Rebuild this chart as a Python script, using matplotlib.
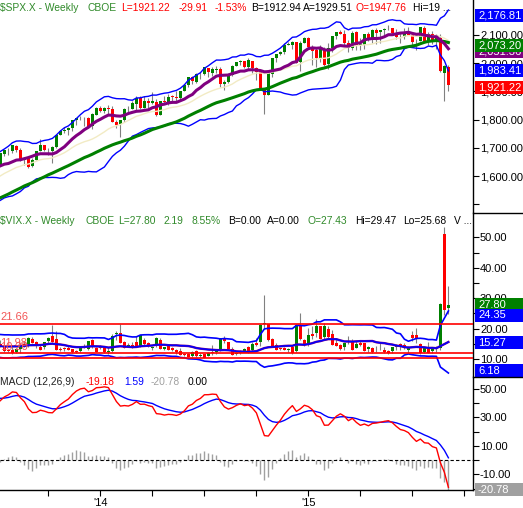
"""
spx-vix-weekly
  weekly S&P 500 and VIX candles with bollinger bands, moving averages and MACD
"""

import numpy as np
import pandas as pd

import matplotlib
matplotlib.use('Agg')
import matplotlib.pyplot as plt
import matplotlib.transforms as mtransforms
from matplotlib.patches import Rectangle
from matplotlib.lines import Line2D

plt.rcParams['font.family'] = ['Liberation Sans', 'DejaVu Sans']
plt.rcParams['font.size'] = 8

W, H = 523, 508   # output size in pixels

# ---------------------------------------------------------------
# S&P 500 weekly closes, week ending 2012-07-06 .. 2015-09-04
# (the weeks before 2013-07-12 only feed the averages / MACD)
spx_close = [
    # 2012 H2
    1354.68, 1356.78, 1362.66, 1385.97,
    1390.99, 1405.87, 1418.16, 1411.13, 1406.58,
    1437.92, 1465.77, 1460.15, 1440.67,
    1460.93, 1428.59, 1433.19, 1411.94,
    1414.20, 1379.85, 1359.88, 1409.15, 1416.18,
    1418.07, 1413.58, 1430.15, 1402.43,
    # 2013 up to Jul 5
    1466.47, 1472.05, 1485.98, 1502.96,
    1513.17, 1517.93, 1519.79, 1515.60,
    1518.20, 1551.18, 1560.70, 1556.89, 1569.19,
    1553.28, 1588.85, 1555.25, 1582.24,
    1614.42, 1633.70, 1667.47, 1649.60, 1630.74,
    1643.38, 1626.73, 1592.43, 1606.28,
    1631.89,
    # visible: 2013 from Jul 12
    1680.19, 1692.09, 1691.65,
    1709.67, 1691.42, 1655.83, 1663.50, 1632.97,
    1655.17, 1687.99, 1709.91, 1691.75,
    1690.50, 1703.20, 1744.50, 1759.77,
    1761.64, 1770.61, 1798.18, 1804.76, 1805.81,
    1805.09, 1775.32, 1818.32, 1841.40,
    # 2014
    1831.37, 1842.37, 1838.70, 1790.29, 1782.59,
    1797.02, 1838.63, 1836.25, 1859.45,
    1878.04, 1841.13, 1866.52, 1857.62,
    1865.09, 1815.69, 1864.85, 1863.40,
    1881.14, 1878.48, 1877.86, 1900.53, 1923.57,
    1949.44, 1936.16, 1962.87, 1960.96,
    1985.44, 1967.57, 1978.22, 1978.34,
    1925.15, 1931.59, 1955.06, 1988.40, 2003.37,
    2007.71, 1985.54, 2010.40, 1982.85,
    1967.90, 1906.13, 1886.76, 1964.58, 2018.05,
    2031.92, 2039.82, 2063.50, 2067.56,
    2075.37, 2002.33, 2070.65, 2088.77,
    # 2015
    2058.20, 2044.81, 2019.42, 2051.82, 1994.99,
    2055.47, 2096.99, 2110.30, 2104.50,
    2071.26, 2053.40, 2108.10, 2061.02,
    2066.96, 2102.06, 2081.18, 2117.69,
    2108.29, 2116.10, 2122.73, 2126.06, 2107.39,
    2092.83, 2094.11, 2109.99, 2101.49,
    2076.78, 2076.62, 2126.64, 2079.65, 2103.84,
    2077.57, 2091.54, 1970.89, 1988.87,
    1921.22,
]

# open / high / low for the visible weeks (2013-07-12 .. 2015-09-04)
spx_open = [
    1634, 1679, 1692, 1690, 1708, 1692, 1656, 1664, 1635, 1657, 1688, 1709, 1687,
    1687, 1703, 1745, 1759, 1762, 1769, 1798, 1805, 1806, 1806, 1776, 1818,
    1842, 1832, 1842, 1837, 1791, 1783, 1797, 1838, 1837, 1857, 1878, 1842, 1867,
    1858, 1863, 1816, 1865, 1864, 1884, 1880, 1877, 1901, 1923, 1950, 1934, 1962,
    1960, 1984, 1967, 1976, 1979, 1926, 1933, 1958, 1991, 2004, 2007, 1986, 2009,
    1982, 1971, 1905, 1886, 1963, 2018, 2032, 2039, 2065, 2065, 2074, 2003, 2070,
    2089, 2056, 2046, 2020, 2050, 1997, 2053, 2097, 2110, 2105, 2072, 2055, 2109,
    2064, 2064, 2102, 2082, 2119, 2110, 2116, 2123, 2125, 2108, 2093, 2092, 2110,
    2101, 2075, 2080, 2126, 2078, 2105, 2078, 2090, 1966, 1987,
]
spx_high = [
    1681, 1693, 1698, 1710, 1709, 1701, 1669, 1669, 1664, 1689, 1730, 1711, 1700,
    1708, 1745, 1760, 1775, 1774, 1799, 1806, 1813, 1811, 1811, 1823, 1844,
    1849, 1843, 1851, 1850, 1799, 1798, 1841, 1847, 1867, 1883, 1882, 1883, 1875,
    1897, 1873, 1865, 1885, 1891, 1889, 1902, 1901, 1925, 1950, 1955, 1964, 1969,
    1986, 1984, 1985, 1991, 1985, 1942, 1964, 1994, 2006, 2011, 2008, 2019, 2009,
    1987, 1977, 1912, 1965, 2019, 2034, 2042, 2071, 2076, 2079, 2075, 2077, 2093,
    2093, 2064, 2054, 2065, 2058, 2072, 2097, 2111, 2119, 2117, 2083, 2114, 2115,
    2089, 2103, 2111, 2120, 2126, 2117, 2124, 2134, 2126, 2121, 2109, 2126, 2130,
    2102, 2086, 2129, 2132, 2110, 2113, 2105, 2103, 1993, 1993,
]
spx_low = [
    1634, 1671, 1676, 1682, 1684, 1654, 1639, 1627, 1633, 1657, 1687, 1687, 1674,
    1646, 1700, 1744, 1752, 1746, 1761, 1780, 1797, 1779, 1772, 1767, 1818,
    1828, 1823, 1815, 1790, 1770, 1737, 1792, 1824, 1836, 1834, 1839, 1840, 1842,
    1857, 1814, 1815, 1859, 1851, 1859, 1862, 1868, 1901, 1916, 1925, 1930, 1944,
    1958, 1952, 1955, 1965, 1916, 1904, 1929, 1956, 1990, 1992, 1984, 1979, 1965,
    1941, 1906, 1821, 1886, 1951, 2006, 2028, 2034, 2063, 2049, 2002, 1973, 2070,
    2054, 1992, 1988, 2004, 1989, 1981, 2041, 2085, 2103, 2066, 2039, 2047, 2046,
    2048, 2052, 2079, 2073, 2067, 2070, 2099, 2119, 2099, 2086, 2072, 2085, 2101,
    2056, 2045, 2080, 2077, 2063, 2068, 2052, 1970, 1867, 1903,
]

# VIX weekly closes, week ending 2013-03-01 .. 2015-09-04
vix_close = [
    # 2013 up to Jul 5
    15.36, 12.59, 11.30, 13.57, 12.70, 13.92, 12.06, 14.97, 13.61, 12.85,
    12.59, 12.45, 14.07, 16.30, 15.14, 17.15, 18.90, 16.86, 14.89,
    # visible: 2013 from Jul 12
    14.01, 12.54, 12.72, 11.98, 13.41, 14.37, 14.76, 17.01, 15.36, 14.16, 13.12,
    15.46, 16.74, 15.72, 13.04, 13.09, 13.19, 12.90, 12.19, 12.26, 13.70, 13.79,
    15.76, 13.79, 12.46,
    # 2014
    13.76, 12.14, 12.44, 17.58, 18.41, 15.29, 13.57, 14.68, 14.00, 14.11, 17.82,
    15.00, 14.41, 13.96, 17.03, 13.36, 14.06, 12.91, 12.92, 12.44, 11.36, 11.40,
    10.73, 12.18, 10.85, 11.26, 10.32, 12.08, 12.06, 12.69, 16.95, 15.77, 13.15,
    11.47, 12.09, 12.09, 13.31, 12.11, 14.85, 14.55, 21.24, 21.99, 16.11, 14.03,
    13.12, 13.31, 12.90, 13.33, 11.82, 21.08, 16.49, 14.50,
    # 2015
    17.79, 17.55, 20.95, 16.66, 20.97, 17.29, 14.69, 14.30, 13.34, 15.20, 16.00,
    13.02, 15.07, 14.67, 12.58, 13.89, 12.29, 12.70, 12.86, 12.38, 12.13, 13.84,
    14.21, 13.78, 13.96, 14.02, 16.79, 16.83, 11.95, 13.74, 12.12, 13.39, 12.83,
    28.03, 26.05, 27.80,
]
vix_open = [
    14.9, 14.1, 12.8, 13.0, 12.3, 13.3, 14.9, 14.8, 16.5, 15.7, 14.1, 13.8, 15.9,
    17.7, 16.6, 13.2, 13.5, 13.6, 13.2, 12.5, 12.7, 14.1, 13.3, 16.2, 13.7,
    14.2, 13.8, 12.4, 12.6, 18.1, 18.6, 15.6, 14.0, 14.6, 15.5, 14.3, 16.4, 15.2,
    13.7, 14.6, 16.2, 13.3, 14.3, 13.5, 13.0, 12.5, 11.7, 11.6, 11.0, 12.6, 11.0,
    11.6, 10.9, 12.1, 12.4, 12.9, 16.9, 15.5, 13.2, 11.8, 12.4, 12.7, 14.1, 12.9,
    15.2, 15.5, 21.5, 21.6, 16.6, 14.5, 13.4, 13.6, 12.9, 14.1, 12.6, 21.0, 16.3,
    14.6, 18.2, 18.4, 21.0, 17.2, 20.0, 18.3, 15.2, 14.6, 13.8, 15.5, 15.6, 13.5,
    15.1, 15.2, 13.2, 13.6, 12.6, 13.0, 12.9, 12.6, 12.7, 13.9, 14.8, 14.6, 13.1,
    17.9, 17.9, 14.9, 12.3, 14.0, 12.6, 13.0, 13.7, 51.0, 26.9,
]
vix_high = [
    16.2, 14.6, 13.4, 14.0, 13.7, 15.1, 16.0, 17.1, 17.1, 15.8, 14.9, 15.5, 17.1,
    21.3, 19.3, 13.9, 13.8, 14.4, 13.3, 13.0, 13.8, 15.0, 16.0, 16.5, 14.0,
    14.6, 13.9, 14.0, 18.1, 19.3, 21.5, 15.9, 15.2, 15.6, 17.4, 17.9, 16.9, 15.6,
    14.0, 17.3, 16.8, 14.1, 14.8, 13.9, 13.4, 13.5, 11.9, 12.1, 12.6, 12.8, 12.1,
    11.8, 12.3, 14.5, 13.0, 17.0, 17.6, 15.6, 13.8, 12.4, 12.9, 13.5, 14.3, 15.7,
    17.0, 21.4, 31.1, 21.6, 17.0, 15.3, 13.7, 14.1, 13.5, 14.6, 21.5, 25.2, 16.6,
    20.2, 21.0, 23.3, 21.0, 21.9, 21.0, 19.6, 16.6, 14.9, 15.4, 17.5, 16.6, 15.8,
    16.2, 15.2, 14.2, 14.1, 14.3, 15.3, 13.8, 12.9, 14.0, 15.0, 15.3, 15.4, 14.2,
    19.2, 20.1, 15.2, 13.9, 15.7, 14.0, 14.2, 28.4, 53.3, 34.0,
]
vix_low = [
    13.8, 12.3, 12.2, 11.8, 11.9, 11.9, 13.9, 14.1, 15.1, 13.5, 12.8, 13.3, 15.4,
    15.6, 13.0, 12.5, 12.6, 12.8, 12.0, 11.9, 12.4, 13.6, 13.0, 13.7, 12.3,
    13.2, 12.1, 11.8, 12.2, 16.4, 15.2, 13.5, 13.8, 13.6, 13.8, 13.9, 14.4, 13.9,
    13.0, 13.8, 13.3, 12.9, 12.8, 12.6, 11.8, 11.3, 10.9, 10.7, 10.6, 10.6, 10.6,
    10.3, 10.9, 11.4, 11.8, 12.7, 15.3, 12.8, 11.3, 11.3, 11.6, 12.3, 12.0, 12.5,
    14.3, 14.4, 20.2, 15.9, 13.8, 13.0, 12.9, 12.8, 12.4, 11.8, 12.3, 16.2, 14.3,
    14.3, 16.5, 17.2, 16.5, 16.4, 16.6, 14.6, 14.3, 13.0, 13.0, 15.0, 13.0, 13.5,
    14.4, 12.5, 12.3, 12.1, 12.3, 12.8, 12.1, 11.8, 12.1, 12.9, 12.9, 13.2, 12.1,
    15.8, 15.4, 11.8, 12.0, 12.1, 12.0, 12.2, 12.9, 24.5, 24.8,
]

# horizontal levels drawn on the VIX panel
vix_levels = [21.66, 11.98, 10.20]
vix_level_labels = ['21.66', '11.98', '10.20']

# value tags on the right edge (text, value, colour, vertical nudge in px), drawn in order
spx_tags = [('2,051.36', 2051.36, '#800080', 2.5), ('2,176.81', 2176.81, '#0000ff', 2.5),
            ('2,073.20', 2073.20, '#008000', 2.5), ('1,983.41', 1983.41, '#0000ff', 2.5),
            ('1,921.22', 1921.22, '#ff0000', 2.5)]
vix_tags = [('15.55', 15.55, '#800080', 0), ('27.80', 27.80, '#008000', 0),
            ('24.35', 24.35, '#0000ff', 0), ('15.27', 15.27, '#0000ff', 0),
            ('6.18', 6.18, '#0000ff', 0)]
macd_tags = [('-20.78', -20.78, '#a0a0a0', 0)]

# header lines: (text, x pixel, colour)
green_txt, red_txt, blk = '#308a2a', '#ff0000', '#000000'
spx_head = [('$SPX.X - Weekly', 0, green_txt), ('CBOE', 87, green_txt),
            ('L=1921.22', 121, red_txt), ('-29.91', 179, red_txt), ('-1.53%', 215, red_txt),
            ('B=1912.94', 251, blk), ('A=1929.51', 303, blk), ('O=1947.76', 356, red_txt),
            ('Hi=19 ...', 413, blk)]
vix_head = [('$VIX.X - Weekly', 0, green_txt), ('CBOE', 85, green_txt),
            ('L=27.80', 118, green_txt), ('2.19', 164, green_txt), ('8.55%', 192, green_txt),
            ('B=0.00', 228, blk), ('A=0.00', 267, blk), ('O=27.43', 308, green_txt),
            ('Hi=29.47', 355, blk), ('Lo=25.68', 403, blk), ('V ...', 454, blk)]
macd_head = [('MACD (12,26,9)', 0, '#222222'), ('-19.18', 86, red_txt),
             ('1.59', 124, '#0000ff'), ('-20.78', 151, '#a0a0a0'), ('0.00', 188, blk)]

# ---------------------------------------------------------------
start = pd.Timestamp('2012-07-06')
first = (pd.Timestamp('2013-07-12') - start).days // 7
vix_off = (pd.Timestamp('2013-03-01') - start).days // 7

assert len(spx_close) == first + 113
assert len(spx_open) == len(spx_high) == len(spx_low) == 113
assert len(vix_open) == len(vix_high) == len(vix_low) == 113
assert len(vix_close) == first - vix_off + 113

spx = pd.Series(spx_close, dtype=float)
x_spx = np.arange(len(spx))
xv = x_spx[first:]

sma10 = spx.rolling(10).mean()
sma40 = spx.rolling(40).mean()
mid = spx.rolling(20).mean()
sd = spx.rolling(20).std(ddof=0)

ema12 = spx.ewm(span=12, adjust=False).mean()
ema26 = spx.ewm(span=26, adjust=False).mean()
macd = ema12 - ema26
signal = macd.ewm(span=9, adjust=False).mean()
hist = macd - signal

vix = pd.Series(vix_close, dtype=float)
x_vix = np.arange(len(vix)) + vix_off
vmid = vix.rolling(20).mean()
vsd = vix.rolling(20).std(ddof=0)

# ---------------------------------------------------------------
fig = plt.figure(figsize=(W / 100, H / 100), dpi=100)
fig.patch.set_facecolor('white')

xlo = first - 0.1
xhi = xlo + 473 / 4


def panel(top, bottom):
    return fig.add_axes([0, 1 - bottom / H, 473 / W, (bottom - top) / H])


ax1 = panel(0, 213)
ax2 = panel(213, 377)
ax3 = panel(377, 490)

for ax in (ax1, ax2, ax3):
    ax.yaxis.tick_right()
    ax.tick_params(axis='y', direction='out', length=4, width=0.8, pad=1, labelsize=8)
    ax.tick_params(axis='y', which='minor', direction='out', length=4, width=0.8)
    for s in ('top', 'left', 'bottom'):
        ax.spines[s].set_visible(False)
    ax.spines['right'].set_linewidth(1.0)

for ax in (ax1, ax2):
    ax.tick_params(axis='x', bottom=False, labelbottom=False)

tag_z = [10]


def candles(ax, x, o, h, l, c, minh):
    o, h, l, c = (np.asarray(v, dtype=float) for v in (o, h, l, c))
    ax.vlines(x, l, h, color='#808080', lw=0.8, zorder=2)
    up = c >= o
    ax.bar(x, np.maximum(np.abs(c - o), minh), bottom=np.minimum(o, c), width=0.72,
           color=np.where(up, '#008000', '#ff0000'), linewidth=0, zorder=3)


def tag(ax, text, value, face, dy=0.0):
    y0, y1 = ax.get_ylim()
    axh = ax.get_position().height * H
    fy = (value - y0) / (y1 - y0) - dy / axh
    hh = 13 / axh
    z = tag_z[0]
    tag_z[0] += 2
    ax.add_patch(Rectangle((475 / 473, fy - hh / 2), 52 / 473, hh, transform=ax.transAxes,
                           facecolor=face, edgecolor='none', clip_on=False, zorder=z))
    ax.text(478 / 473, fy, text, transform=ax.transAxes, color='white', fontsize=8,
            ha='left', va='center', clip_on=False, zorder=z + 1)


def header(items, ypix):
    for s, xpix, col in items:
        fig.text(xpix / W, 1 - ypix / H, s, color=col, fontsize=7.4, ha='left', va='center')


# --- S&P 500 panel ---
ax1.set_ylim(1469, 2224)
candles(ax1, xv, spx_open, spx_high, spx_low, spx_close[first:], 1.5)
ax1.plot(x_spx, mid, color='#f2ebc4', lw=1.0, zorder=4)
ax1.plot(x_spx, mid + 2 * sd, color='#0000ff', lw=1.0, zorder=4)
ax1.plot(x_spx, mid - 2 * sd, color='#0000ff', lw=1.0, zorder=4)
ax1.plot(x_spx, sma40, color='#008000', lw=2.2, zorder=5)
ax1.plot(x_spx, sma10, color='#800080', lw=2.2, zorder=5)
spx_ticks = list(range(1500, 2101, 100))
ax1.set_yticks(spx_ticks)
ax1.set_yticklabels(['' if v == 1500 else f'{v:,.2f}' for v in spx_ticks])
for t in spx_tags:
    tag(ax1, *t)
header(spx_head, 8)

# --- VIX panel ---
ax2.set_ylim(4.08, 58.0)
candles(ax2, xv, vix_open, vix_high, vix_low, vix_close[first - vix_off:], 0.15)
ax2.plot(x_vix, vmid, color='#800080', lw=1.7, zorder=4)
ax2.plot(x_vix, vmid, color='#0000ff', lw=1.1, zorder=4)
ax2.plot(x_vix, vmid + 2 * vsd, color='#0000ff', lw=1.2, zorder=4)
ax2.plot(x_vix, vmid - 2 * vsd, color='#0000ff', lw=1.2, zorder=4)
blend2 = mtransforms.blended_transform_factory(ax2.transAxes, ax2.transData)
for lev, lab, off in zip(vix_levels, vix_level_labels, [2, 5, 6]):
    ax2.axhline(lev, color='#ff0000', lw=1.2, zorder=5)
    ax2.annotate(lab, xy=(0, lev), xycoords=blend2, xytext=(0, off * 0.72),
                 textcoords='offset points', color='#f25555', fontsize=8,
                 ha='left', va='bottom', zorder=6)
ax2.set_yticks([10, 20, 30, 40, 50])
ax2.set_yticklabels([f'{v:.2f}' for v in [10, 20, 30, 40, 50]])
ax2.set_yticks([15, 25, 35, 45], minor=True)
for t in vix_tags:
    tag(ax2, *t)
header(vix_head, 221)

# --- MACD panel ---
ax3.set_ylim(-21.05, 58.4)
ax3.vlines(x_spx, 0, hist, color='#a0a0a0', lw=1.0, zorder=2)
ax3.axhline(0, color='black', lw=0.8, ls=(0, (3, 2)), zorder=3)
ax3.plot(x_spx, signal, color='#0000ff', lw=1.0, zorder=4)
ax3.plot(x_spx, macd, color='#ff0000', lw=1.0, zorder=5)
ax3.set_yticks([50, 30, 10, -10])
ax3.set_yticklabels(['50.00', '30.00', '10.00', '-10.00'])
ax3.set_yticks([40, 20, 0, -20], minor=True)
ax3.spines['bottom'].set_visible(True)
ax3.spines['bottom'].set_linewidth(1.0)
for t in macd_tags:
    tag(ax3, *t)
header(macd_head, 382)

# quarter ticks along the bottom, years labelled
dates = pd.date_range(start, periods=len(spx) + 12, freq='W-FRI')
qnum = dates.year * 4 + dates.quarter
qstart = np.where(np.diff(qnum) != 0)[0] + 1
qstart = qstart[(qstart >= xlo) & (qstart <= xhi)]
ax3.set_xticks(qstart)
ax3.set_xticklabels(["'" + str(dates[i].year)[2:] if dates[i].month == 1 else '' for i in qstart])
ax3.tick_params(axis='x', direction='out', length=4, width=0.8, pad=2, labelsize=8)

for ax in (ax1, ax2, ax3):
    ax.set_xlim(xlo, xhi)

# separators in the price-label strip
for ypix in (213, 377):
    fig.add_artist(Line2D([473 / W, 1], [1 - ypix / H] * 2, color='black', lw=1.0))

fig.savefig('out.png', dpi=100, facecolor='white')
